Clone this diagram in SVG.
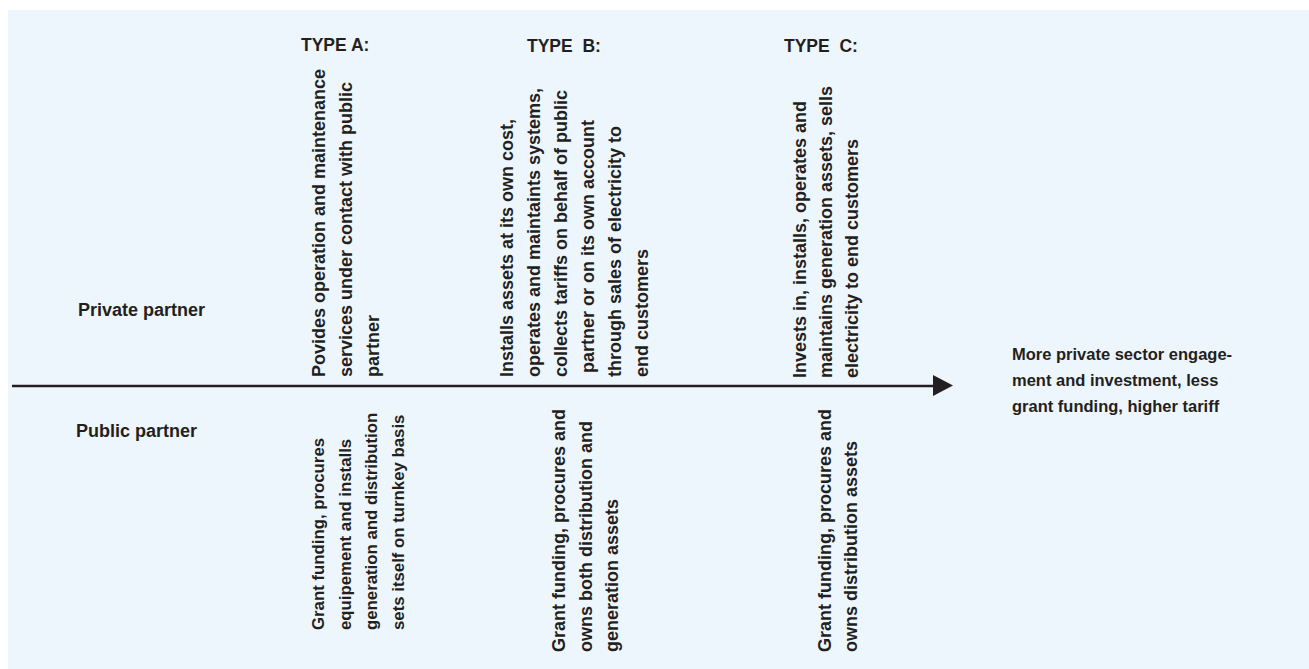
<svg xmlns="http://www.w3.org/2000/svg" width="1309" height="669" viewBox="0 0 1309 669">
<style>
  .t { font-family: "Liberation Sans", Arial, sans-serif; font-weight: bold; fill: #231f20; }
  .lbl { font-size: 18px; }
  .rot { font-size: 18px; }
  .rot-s { font-size: 16.8px; }
  .hdr { font-size: 17.5px; white-space: pre; }
  .note { font-size: 16.5px; }
</style>
<rect x="8" y="10" width="1301" height="659" fill="#eef6fd"/>

<g id="connectors">
  <line x1="12" y1="386" x2="936" y2="386" stroke="#231f20" stroke-width="2.7"/>
  <polygon points="933,375 953,385.5 933,396" fill="#231f20"/>
</g>

<g id="label-private"><text class="t lbl" x="78" y="316">Private partner</text></g>
<g id="label-public"><text class="t lbl" x="76" y="437">Public partner</text></g>

<g id="type-a">
  <text class="t hdr" x="301" y="51">TYPE A:</text>
  <text class="t rot" transform="translate(325,377) rotate(-90)">
    <tspan x="0" y="0">Povides operation and maintenance</tspan>
    <tspan x="0" dy="27">services under contact with public</tspan>
    <tspan x="0" dy="27">partner</tspan>
  </text>
  <text class="t rot-s" transform="translate(324,630) rotate(-90)">
    <tspan x="0" y="0">Grant funding, procures</tspan>
    <tspan x="0" dy="26.5">equipement and installs</tspan>
    <tspan x="0" dy="26.5">generation and distribution</tspan>
    <tspan x="0" dy="26.5">sets itself on turnkey basis</tspan>
  </text>
</g>

<g id="type-b">
  <text class="t hdr" x="527" y="52">TYPE  B:</text>
  <text class="t rot" transform="translate(513,377) rotate(-90)">
    <tspan x="0" y="0">Installs assets at its own cost,</tspan>
    <tspan x="0" dy="27">operates and maintaints systems,</tspan>
    <tspan x="0" dy="27">collects tariffs on behalf of public</tspan>
    <tspan x="4" dy="27">partner or on its own account</tspan>
    <tspan x="0" dy="27">through sales of electricity to</tspan>
    <tspan x="0" dy="27">end customers</tspan>
  </text>
  <text class="t rot" transform="translate(565,652) rotate(-90)">
    <tspan x="0" y="0">Grant funding, procures and</tspan>
    <tspan x="0" dy="26.5">owns both distribution and</tspan>
    <tspan x="0" dy="26.5">generation assets</tspan>
  </text>
</g>

<g id="type-c">
  <text class="t hdr" x="784" y="52">TYPE  C:</text>
  <text class="t rot" transform="translate(806,378) rotate(-90)">
    <tspan x="0" y="0">Invests in, installs, operates and</tspan>
    <tspan x="0" dy="26">maintains generation assets, sells</tspan>
    <tspan x="0" dy="26">electricity to end customers</tspan>
  </text>
  <text class="t rot" transform="translate(831,652) rotate(-90)">
    <tspan x="0" y="0">Grant funding, procures and</tspan>
    <tspan x="0" dy="26">owns distribution assets</tspan>
  </text>
</g>

<g id="outcome">
  <text class="t note">
    <tspan x="1012" y="360">More private sector engage-</tspan>
    <tspan x="1012" dy="26">ment and investment, less</tspan>
    <tspan x="1012" dy="26">grant funding, higher tariff</tspan>
  </text>
</g>
</svg>
